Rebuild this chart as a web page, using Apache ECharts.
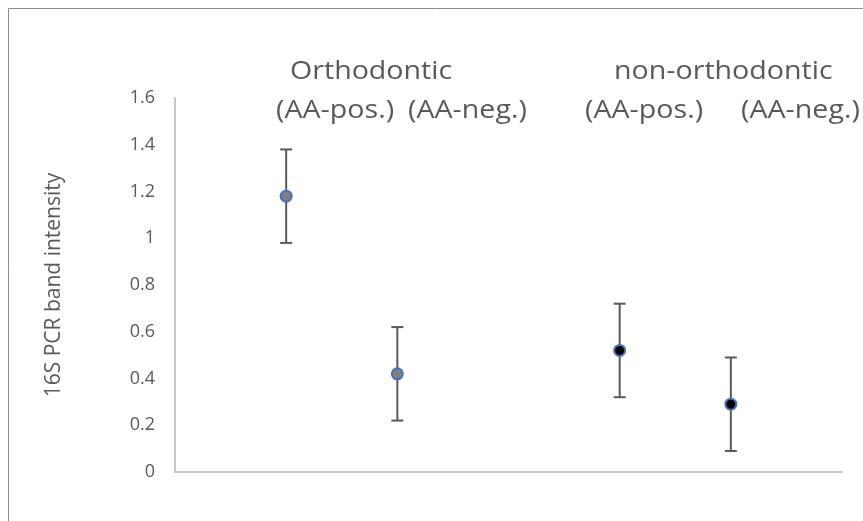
<!DOCTYPE html>
<html>
<head>
<meta charset="utf-8">
<script src="https://cdn.jsdelivr.net/npm/echarts@6/dist/echarts.min.js"></script>
<style>
  html, body { margin: 0; padding: 0; background: #ffffff; }
  #chart { width: 863px; height: 521px; }
</style>
</head>
<body>
<div id="chart"></div>
<script>
// Group headings and the sub-labels under them
const groupNames = ['Orthodontic', 'non-orthodontic'];
const subLabels = ['(AA-pos.)', '(AA-neg.)', '(AA-pos.)', '(AA-neg.)'];

// Position of each sample on the horizontal value axis
const xPositions = [1, 2, 4, 5];
// Mean 16S PCR band intensity and its error (±)
const means = [1.18, 0.42, 0.52, 0.29];
const errors = [0.2, 0.2, 0.2, 0.2];
// Marker fill for each sample
const fills = ['#7f7f7f', '#7f7f7f', '#000000', '#000000'];

// Y-axis tick range
const yMin = 0, yMax = 1.6, yStep = 0.2;

const textColor = '#595959';
const font = '"Open Sans", sans-serif';

const chart = echarts.init(document.getElementById('chart'), null, { renderer: 'canvas' });

const pointData = xPositions.map((x, i) => ({
  value: [x, means[i]],
  itemStyle: { color: fills[i] }
}));
const errorData = xPositions.map((x, i) => [x, means[i] - errors[i], means[i] + errors[i]]);

// Heading text over the plot area, slightly widened
const headingStyle = { fill: textColor, font: '26px ' + font, textVerticalAlign: 'middle' };
const headings = [
  { x: 290, y: 72, text: groupNames[0] },
  { x: 614, y: 72, text: groupNames[1] },
  { x: 276, y: 111, text: subLabels[0] },
  { x: 408, y: 111, text: subLabels[1] },
  { x: 585, y: 111, text: subLabels[2] },
  { x: 741, y: 111, text: subLabels[3] }
].map(h => ({
  type: 'text', x: h.x, y: h.y, z: 10, scaleX: 1.1, scaleY: 1,
  style: Object.assign({ text: h.text }, headingStyle)
}));

const option = {
  animation: false,
  backgroundColor: '#ffffff',
  grid: { left: 175, right: 21, top: 98, bottom: 49, containLabel: false },
  xAxis: {
    type: 'value', min: 0, max: 6,
    axisLine: { show: true, onZero: false, lineStyle: { color: '#c8c8c8', width: 2 } },
    axisTick: { show: false },
    axisLabel: { show: false },
    splitLine: { show: false }
  },
  yAxis: {
    type: 'value', min: yMin, max: yMax, interval: yStep,
    name: '16S PCR band intensity',
    nameLocation: 'middle', nameRotate: 90, nameGap: 110,
    nameTextStyle: { color: textColor, fontSize: 21, fontFamily: font },
    axisLine: { show: true, lineStyle: { color: '#c8c8c8', width: 2 } },
    axisTick: { show: false },
    axisLabel: { color: textColor, fontSize: 18, fontFamily: font, margin: 20 },
    splitLine: { show: false }
  },
  graphic: [
    {
      type: 'rect', z: -1, silent: true,
      shape: { x: 8.5, y: 8.5, width: 900, height: 600 },
      style: { fill: 'none', stroke: '#8c8c8c', lineWidth: 1 }
    }
  ].concat(headings),
  series: [
    {
      type: 'custom',
      z: 2,
      data: errorData,
      renderItem: function (params, api) {
        const top = api.coord([api.value(0), api.value(2)]);
        const bot = api.coord([api.value(0), api.value(1)]);
        const half = 6;
        const style = { stroke: '#595959', lineWidth: 2, fill: 'none' };
        return {
          type: 'group',
          children: [
            { type: 'line', shape: { x1: top[0], y1: top[1], x2: bot[0], y2: bot[1] }, style: style },
            { type: 'line', shape: { x1: top[0] - half, y1: top[1], x2: top[0] + half, y2: top[1] }, style: style },
            { type: 'line', shape: { x1: bot[0] - half, y1: bot[1], x2: bot[0] + half, y2: bot[1] }, style: style }
          ]
        };
      }
    },
    {
      type: 'scatter',
      z: 3,
      symbol: 'circle',
      symbolSize: 11,
      data: pointData,
      itemStyle: { borderColor: '#4472c4', borderWidth: 2, opacity: 1 }
    }
  ]
};

chart.setOption(option);
</script>
</body>
</html>
